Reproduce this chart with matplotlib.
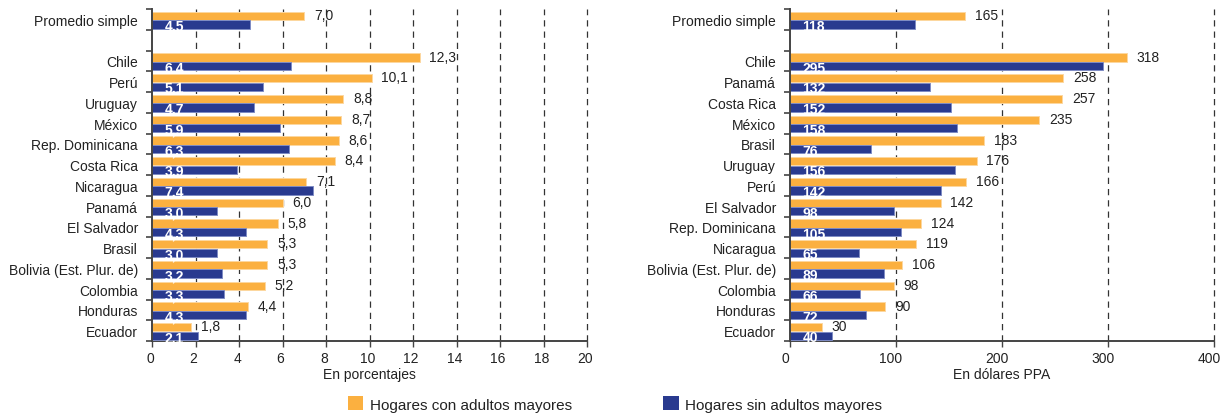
import matplotlib
matplotlib.use("Agg")
import matplotlib.pyplot as plt
import matplotlib.transforms as mtransforms
from matplotlib.patches import Patch
import numpy as np

plt.rcParams['font.family'] = ['Liberation Sans', 'DejaVu Sans']

# ---------------- data ----------------
left_categories = ["Promedio simple", "", "Chile", "Perú", "Uruguay", "México",
                   "Rep. Dominicana", "Costa Rica", "Nicaragua", "Panamá",
                   "El Salvador", "Brasil", "Bolivia (Est. Plur. de)",
                   "Colombia", "Honduras", "Ecuador"]
left_con = [7.0, None, 12.3, 10.1, 8.8, 8.7, 8.6, 8.4, 7.1, 6.0, 5.8, 5.3, 5.3, 5.2, 4.4, 1.8]
left_sin = [4.5, None, 6.4, 5.1, 4.7, 5.9, 6.3, 3.9, 7.4, 3.0, 4.3, 3.0, 3.2, 3.3, 4.3, 2.1]
left_sin_labels = ["4.5", "", "6.4", "5.1", "4.7", "5,9", "6,3", "3.9", "7.4",
                   "3,0", "4,3", "3,0", "3,2", "3,3", "4,3", "2,1"]
left_xticks = [0, 2, 4, 6, 8, 10, 12, 14, 16, 18, 20]

right_categories = ["Promedio simple", "", "Chile", "Panamá", "Costa Rica", "México",
                    "Brasil", "Uruguay", "Perú", "El Salvador", "Rep. Dominicana",
                    "Nicaragua", "Bolivia (Est. Plur. de)", "Colombia", "Honduras",
                    "Ecuador"]
right_con = [165, None, 318, 258, 257, 235, 183, 176, 166, 142, 124, 119, 106, 98, 90, 30]
right_sin = [118, None, 295, 132, 152, 158, 76, 156, 142, 98, 105, 65, 89, 66, 72, 40]
right_xticks = [0, 100, 200, 300, 400]

series_names = ["Hogares con adultos mayores", "Hogares sin adultos mayores"]
xlabels = ["En porcentajes", "En dólares PPA"]

# ---------------- style ----------------
ORANGE = "#FBB040"
ORANGE_EDGE = "#FDD7A0"
BLUE = "#293A8F"
BLUE_EDGE = "#7F8CC4"
TXT = "#222222"

W, H = 1224, 414
fig = plt.figure(figsize=(W / 100, H / 100), dpi=100)

def px_axes(x0, x1, ytop, ybot):
    return fig.add_axes([x0 / W, (H - ybot) / H, (x1 - x0) / W, (ybot - ytop) / H])

ax_l = px_axes(152, 587, 10, 342)
ax_r = px_axes(790, 1214, 10, 342)

def draw(ax, cats, con, sin, sin_labels, xticks, xlabel, fmt, label_shift):
    n = len(cats)
    y = np.arange(n)
    h = 0.4
    for i in range(n):
        if con[i] is None:
            continue
        ax.barh(y[i] - 0.16, con[i], height=h, color=ORANGE, edgecolor=ORANGE_EDGE,
                linewidth=0.7, zorder=3)
        ax.barh(y[i] + 0.25, sin[i], height=h, color=BLUE, edgecolor=BLUE_EDGE,
                linewidth=0.7, zorder=3)
        ax.annotate(fmt(con[i]), xy=(con[i], y[i] - 0.2), xytext=(7, 0),
                    textcoords="offset points", ha="left", va="center",
                    fontsize=10, color=TXT, zorder=5)
        ax.annotate(sin_labels[i], xy=(0, y[i] + 0.33), xytext=(9, 0),
                    textcoords="offset points", ha="left", va="center",
                    fontsize=10, color="white", fontweight="bold", zorder=5)
    ax.set_ylim(n - 0.5, -0.5)
    ax.set_xlim(xticks[0], xticks[-1])
    ax.set_yticks(y)
    ax.set_yticklabels(cats, fontsize=10, color=TXT)
    ax.tick_params(axis="y", which="major", length=0, pad=10)
    ax.set_yticks(np.arange(n + 1) - 0.5, minor=True)
    ax.tick_params(axis="y", which="minor", length=4, width=1.2, color="#444444",
                   direction="out")
    ax.set_xticks(xticks)
    ax.set_xticklabels([str(t) for t in xticks], fontsize=10, color=TXT)
    ax.tick_params(axis="x", which="major", length=4, width=1, color="#444444",
                   direction="out", pad=3)
    offset = mtransforms.ScaledTranslation(-label_shift / 100, 0, fig.dpi_scale_trans)
    for lab in ax.get_xticklabels():
        lab.set_transform(lab.get_transform() + offset)
    for t in xticks[1:]:
        ax.axvline(t, color="#333333", linewidth=0.9, linestyle=(0, (5, 4)),
                   zorder=1, clip_on=False)
    for s in ["top", "right"]:
        ax.spines[s].set_visible(False)
    for s in ["left", "bottom"]:
        ax.spines[s].set_color("#444444")
        ax.spines[s].set_linewidth(1.4)
    ax.spines["left"].set_zorder(6)
    ax.set_xlabel(xlabel, fontsize=10, color=TXT, labelpad=2)

draw(ax_l, left_categories, left_con, left_sin, left_sin_labels, left_xticks,
     xlabels[0], lambda v: f"{v:.1f}".replace(".", ","), 2)
draw(ax_r, right_categories, right_con, right_sin,
     ["" if v is None else str(v) for v in right_sin], right_xticks,
     xlabels[1], lambda v: str(v), 5)

handles = [Patch(facecolor=ORANGE, edgecolor="none"),
           Patch(facecolor=BLUE, edgecolor="none")]
fig.legend(handles, series_names, loc="center", bbox_to_anchor=(615 / W, 9 / H),
           ncol=2, frameon=False, fontsize=11, handlelength=1.0, handleheight=1.0,
           handletextpad=0.4, columnspacing=6.0, labelcolor=TXT)

fig.savefig("out.png", dpi=100)
